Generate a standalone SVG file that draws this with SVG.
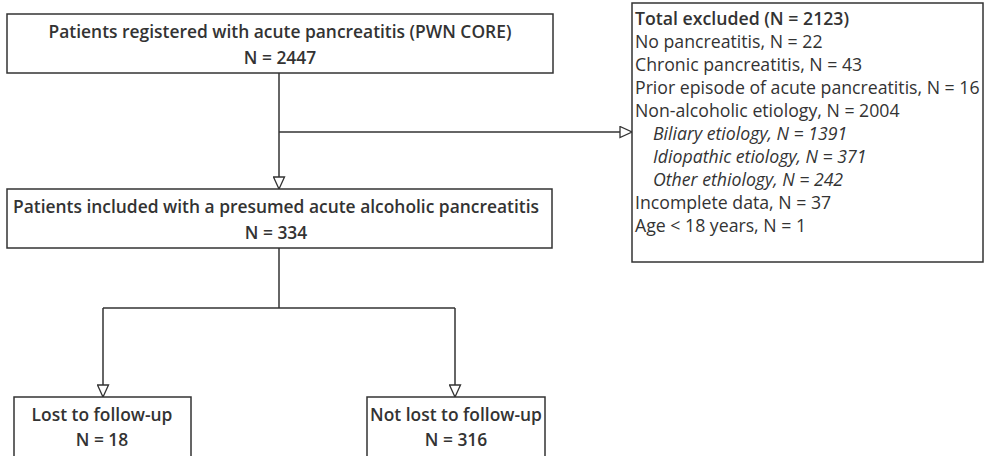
<svg xmlns="http://www.w3.org/2000/svg" width="985" height="456" viewBox="0 0 985 456">
<style>
.box{fill:#fff;stroke:#333;stroke-width:1.5}
.t{font-family:"Open Sans","Liberation Sans",sans-serif;font-size:17.7px;fill:#333}
.b{font-weight:600;text-anchor:middle;font-size:17.4px}
.i{font-style:italic}
.c{fill:none;stroke:#333;stroke-width:1.5}
</style>
<defs>
<marker id="ah" markerWidth="14" markerHeight="13" refX="13" refY="6.5" orient="auto" markerUnits="userSpaceOnUse">
<path d="M1,1 L13,6.5 L1,12 Z" fill="#fff" stroke="#333" stroke-width="1.3"/>
</marker>
</defs>
<g id="connectors">
<path class="c" d="M279,73 V189" marker-end="url(#ah)"/>
<path class="c" d="M279,132 H632" marker-end="url(#ah)"/>
<path class="c" d="M279,248 V308"/>
<path class="c" d="M103,308 H455"/>
<path class="c" d="M103,308 V397" marker-end="url(#ah)"/>
<path class="c" d="M455,308 V397" marker-end="url(#ah)"/>
</g>
<g id="registered">
<rect class="box" x="7" y="14" width="546" height="59"/>
<text class="t b" x="280" y="38">Patients registered with acute pancreatitis (PWN CORE)</text>
<text class="t b" x="280" y="64">N = 2447</text>
</g>
<g id="excluded">
<rect class="box" x="632" y="3" width="351" height="259"/>
<text class="t" x="635" y="25" font-weight="600">Total excluded (N = 2123)</text>
<text class="t" x="635" y="48">No pancreatitis, N = 22</text>
<text class="t" x="635" y="71">Chronic pancreatitis, N = 43</text>
<text class="t" x="635" y="94">Prior episode of acute pancreatitis, N = 16</text>
<text class="t" x="635" y="117">Non-alcoholic etiology, N = 2004</text>
<text class="t i" x="653" y="140">Biliary etiology, N = 1391</text>
<text class="t i" x="653" y="163">Idiopathic etiology, N = 371</text>
<text class="t i" x="653" y="186">Other ethiology, N = 242</text>
<text class="t" x="635" y="209">Incomplete data, N = 37</text>
<text class="t" x="635" y="232">Age &lt; 18 years, N = 1</text>
</g>
<g id="included">
<rect class="box" x="7" y="189" width="545" height="59"/>
<text class="t b" x="276" y="213">Patients included with a presumed acute alcoholic pancreatitis</text>
<text class="t b" x="276" y="239">N = 334</text>
</g>
<g id="lost">
<rect class="box" x="14" y="397" width="177" height="62"/>
<text class="t b" x="102" y="421">Lost to follow-up</text>
<text class="t b" x="102" y="446">N = 18</text>
</g>
<g id="notlost">
<rect class="box" x="367" y="397" width="178" height="62"/>
<text class="t b" x="456" y="421">Not lost to follow-up</text>
<text class="t b" x="456" y="446">N = 316</text>
</g>
</svg>
